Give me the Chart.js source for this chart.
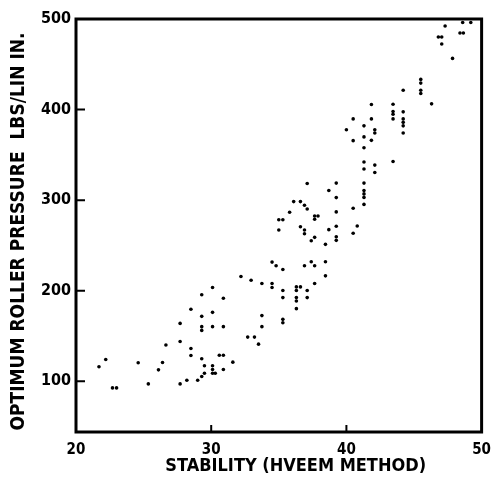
<!DOCTYPE html>
<html><head><meta charset="utf-8">
<script src="https://cdn.jsdelivr.net/npm/chart.js@4/dist/chart.umd.min.js"></script>
<style>html,body{margin:0;padding:0;background:#fff}#wrap{width:500px;height:480px}</style>
</head><body><div id="wrap"><canvas id="c" width="500" height="480"></canvas></div>
<script>
const stability = [
 21.7,22.2,22.7,23.0,24.6,25.35,26.1,26.4,26.65,27.7,27.7,27.7,28.2,28.5,28.5,28.5,29.0,29.3,29.3,29.3,
 29.3,29.3,29.3,29.5,29.5,30.1,30.1,30.1,30.1,30.1,30.1,30.3,30.6,30.9,30.9,30.9,30.9,31.6,32.2,32.95,
 33.75,33.75,33.75,32.7,33.2,33.5,34.5,34.8,35.3,34.5,34.5,35.3,35.3,35.3,35.3,
 41.3,42.1,41.3,42.1,37.1,39.25,41.3,38.7,41.3,41.3,41.3,39.25,41.3,36.1,36.6,36.9,37.1,40.5,35.8,39.25,
 35.0,35.3,37.65,37.9,37.65,35.0,36.6,36.9,36.9,38.7,39.25,40.8,40.5,37.65,37.4,39.25,39.25,38.45,
 37.4,36.9,37.65,38.45,38.45,37.65,36.3,36.6,36.3,37.1,36.3,36.3,37.1,36.3,
 45.5,45.5,44.2,45.5,45.5,41.85,43.45,46.3,43.45,43.45,43.45,44.2,40.5,41.85,44.2,44.2,44.2,40.0,41.3,
 42.1,42.1,44.2,40.5,41.3,41.85,41.3,43.45,
 47.3,48.6,49.2,48.4,48.65,46.8,47.05,47.05,47.85
];
const pressure = [
 116,124,92.7,92.7,120.4,97.1,112.6,120.7,140.1,144,163.9,97.1,101.1,179.5,136.2,128.5,101.1,195.5,171.7,160.3,
 156.2,124.8,105.2,117.1,108.9,203.5,176.1,160.3,117.1,113,108.9,108.9,128.8,128.8,191.7,160.3,113,121.1,215.7,211.6,
 207.9,172.5,160.3,148.8,148.8,141,231.6,227.5,223.5,207.9,203.5,200.2,192.4,168.4,164.7,
 342.1,338.7,334.3,330.5,318.3,318.8,318.8,310.6,310.6,306.9,303,302.8,295.3,298.4,298.4,294.4,290.3,291.1,286.6,287,
 278.4,278.4,282.5,282.5,278.9,267,270.7,267,262.9,267.4,271.1,271.5,263.4,258.9,255.2,259.6,255.6,251.2,
 231.9,227.5,227.5,231.9,216.4,207.9,204.2,204.2,200.2,200.2,192.4,188.7,192.4,180.2,
 433.3,429.2,421.4,421.4,417.8,405.6,405.9,406.3,397.8,394.8,389.7,397.5,389.7,389.7,389.7,385.9,382,377.8,382,
 377.8,374.2,374.2,365.7,369.8,366,357.9,342.7,
 492.3,496.1,496.1,484.6,484.6,480.1,480.1,472.4,456.5
];
const xTicks = [20,30,40,50];
const yTicks = [100,200,300,400,500];
const xTitle = '      STABILITY (HVEEM METHOD)';
const yTitle = 'OPTIMUM ROLLER PRESSURE  LBS/LIN IN.  ';

const FONT = "'DejaVu Sans Condensed','Liberation Sans Narrow','DejaVu Sans',sans-serif";
const points = stability.map((x,i)=>({x:x,y:pressure[i]}));

const framePlugin = {
  id:'frame',
  afterDatasetsDraw(chart){
    const ctx = chart.ctx, a = chart.chartArea;
    const xs = chart.scales.x, ys = chart.scales.y;
    ctx.save();
    ctx.strokeStyle = '#000';
    ctx.lineWidth = 3;
    ctx.strokeRect(a.left, a.top, a.right-a.left, a.bottom-a.top);
    ctx.lineWidth = 2;
    ctx.beginPath();
    yTicks.forEach(v=>{ if(v<ys.max){ const p=ys.getPixelForValue(v); ctx.moveTo(a.left, p); ctx.lineTo(a.left+9, p);} });
    xTicks.forEach(v=>{ if(v>xs.min && v<xs.max){ const p=xs.getPixelForValue(v); ctx.moveTo(p, a.bottom); ctx.lineTo(p, a.bottom-7);} });
    ctx.stroke();
    ctx.restore();
  }
};

new Chart(document.getElementById('c'), {
  type:'scatter',
  data:{datasets:[{data:points, backgroundColor:'#000', borderColor:'#000', pointRadius:1.8, pointHoverRadius:1.8, borderWidth:0}]},
  options:{
    responsive:false, animation:false,
    layout:{padding:{top:19,right:11,left:0,bottom:0}},
    plugins:{legend:{display:false}, tooltip:{enabled:false}},
    scales:{
      x:{type:'linear', min:20, max:50,
        afterBuildTicks(s){ s.ticks = xTicks.map(v=>({value:v})); },
        afterFit(s){ s.height = 48; },
        grid:{display:false, drawTicks:false}, border:{display:false},
        ticks:{color:'#000', padding:9, maxRotation:0, font:{family:FONT, size:15, weight:'bold'}},
        title:{display:true, text:xTitle, color:'#000', padding:{top:0,bottom:3}, font:{family:FONT, size:18, weight:'bold'}}
      },
      y:{type:'linear', min:44, max:500,
        afterBuildTicks(s){ s.ticks = yTicks.map(v=>({value:v})); },
        afterFit(s){ s.width = 76; },
        grid:{display:false, drawTicks:false}, border:{display:false},
        ticks:{color:'#000', padding:5, font:{family:FONT, size:16, weight:'bold'}},
        title:{display:true, text:yTitle, color:'#000', padding:{top:8,bottom:0}, font:{family:FONT, size:19, weight:'bold'}}
      }
    }
  },
  plugins:[framePlugin]
});
</script></body></html>
